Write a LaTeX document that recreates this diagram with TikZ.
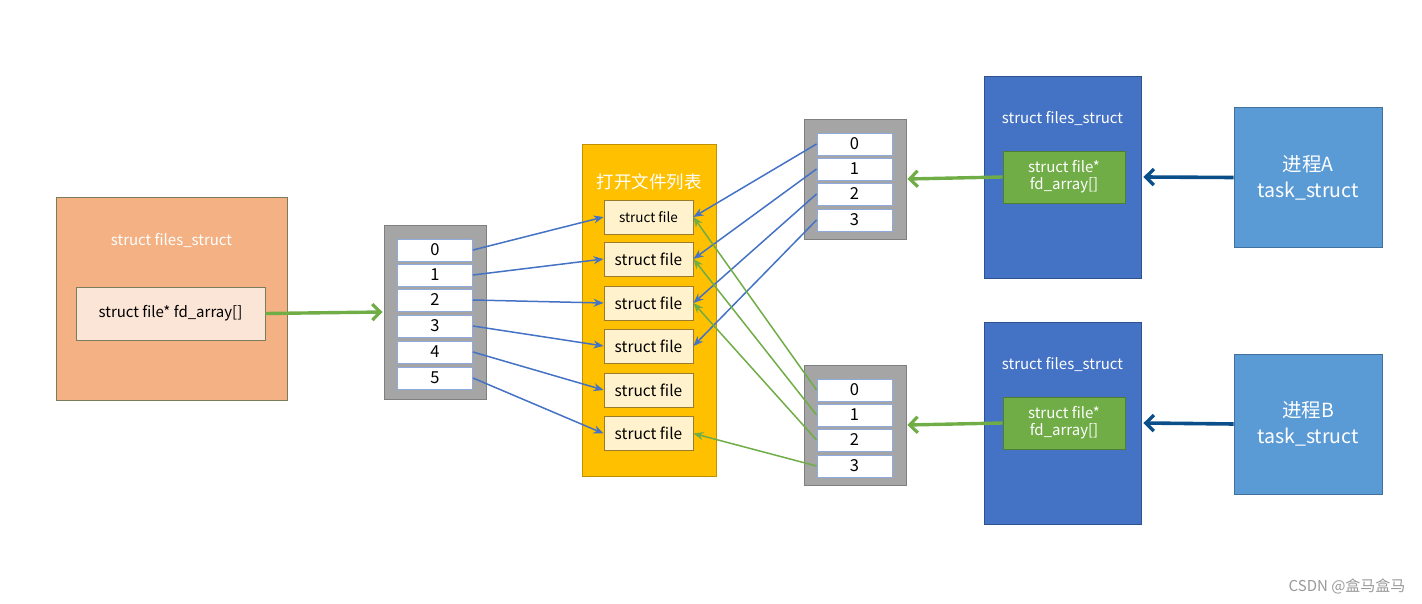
\documentclass[tikz,border=0pt]{standalone}
\usepackage{fontspec}
\setmainfont{Noto Sans CJK SC}
\usetikzlibrary{arrows.meta}
\definecolor{cOrange}{HTML}{F4B183}
\definecolor{cOrangeIn}{HTML}{FBE5D6}
\definecolor{cOlive}{HTML}{7A7D5C}
\definecolor{cGray}{HTML}{A5A5A5}
\definecolor{cGrayB}{HTML}{7F7F7F}
\definecolor{cCellB}{HTML}{8FAADC}
\definecolor{cYellow}{HTML}{FFC000}
\definecolor{cYellowB}{HTML}{BF9000}
\definecolor{cSF}{HTML}{FFF2CC}
\definecolor{cSFB}{HTML}{9C7C2C}
\definecolor{cBlue}{HTML}{4472C4}
\definecolor{cBlueB}{HTML}{2F528F}
\definecolor{cGreen}{HTML}{70AD47}
\definecolor{cGreenB}{HTML}{507E32}
\definecolor{cTask}{HTML}{5B9BD5}
\definecolor{cTaskB}{HTML}{41719C}
\definecolor{cDark}{HTML}{0B4F8A}
\begin{document}
\begin{tikzpicture}[x=1pt,y=-1pt,
  box/.style={draw,rectangle,inner sep=0pt,line width=0.9pt},
  cell/.style={box,fill=white,draw=cCellB,minimum width=75pt,minimum height=22pt,font=\fontsize{16.5}{16.5}\selectfont},
  sfile/.style={box,fill=cSF,draw=cSFB,minimum width=89pt,minimum height=34pt,font=\fontsize{15.5}{15.5}\selectfont},
  txt/.style={font=\fontsize{15}{15}\selectfont,text=white},
  thinblue/.style={draw=cBlue,line width=1.5pt,-{Stealth[length=10pt,width=8pt]}},
  thingreen/.style={draw=cGreen,line width=1.5pt,-{Stealth[length=10pt,width=8pt]}},
  thickgreen/.style={draw=cGreen,line width=3.4pt,-{Straight Barb[length=8pt,width=16pt,line width=3.2pt]}},
  thickdark/.style={draw=cDark,line width=3.6pt,-{Straight Barb[length=8pt,width=16pt,line width=3.4pt]}}
]
\useasboundingbox (0,0) rectangle (1422,604);
% left orange
\node[box,fill=cOrange,draw=cOlive,minimum width=231pt,minimum height=203pt] (lbox) at (171.5,298.5) {};
\node[txt] (ltitle) at (171.5,240) {struct files\_struct};
\node[box,fill=cOrangeIn,draw=cOlive,minimum width=189pt,minimum height=53pt,font=\fontsize{15}{15}\selectfont] (lin) at (170.5,313.5) {struct file* fd\_array[]};
% left array
\node[box,fill=cGray,draw=cGrayB,minimum width=102pt,minimum height=174pt] (larr) at (435,312) {};
\foreach \i/\y in {0/250,1/275,2/300,3/326,4/352,5/378}{
  \node[cell] (L\i) at (435,\y) {\i};
}
% yellow list
\node[box,fill=cYellow,draw=cYellowB,minimum width=134pt,minimum height=332pt] (ylist) at (649,310) {};
\node[font=\fontsize{17.5}{17.5}\selectfont,text=white] (ytitle) at (649,182) {打开文件列表};
\node[sfile,font=\fontsize{13.5}{13.5}\selectfont] (S0) at (648.5,217) {struct file};
\foreach \i/\y in {1/259,2/303,3/346,4/390,5/433.5}{
  \node[sfile] (S\i) at (648.5,\y) {struct file};
}
% right arrays
\node[box,fill=cGray,draw=cGrayB,minimum width=102pt,minimum height=120pt] (aarr) at (855,179) {};
\foreach \i/\y in {0/144,1/169,2/194,3/220}{
  \node[cell] (A\i) at (854.5,\y) {\i};
}
\node[box,fill=cGray,draw=cGrayB,minimum width=102pt,minimum height=120pt] (barr) at (855,425) {};
\foreach \i/\y in {0/390,1/415,2/440,3/466}{
  \node[cell] (B\i) at (854.5,\y) {\i};
}
% blue files_struct A/B
\node[box,fill=cBlue,draw=cBlueB,minimum width=157pt,minimum height=202pt] (fa) at (1062.5,177) {};
\node[txt] (fatitle) at (1062.5,118) {struct files\_struct};
\node[box,fill=cGreen,draw=cGreenB,minimum width=122pt,minimum height=52pt,txt,align=center] (fain) at (1064,177) {struct file*\\[2pt]fd\_array[]};
\node[box,fill=cBlue,draw=cBlueB,minimum width=157pt,minimum height=202pt] (fb) at (1062.5,423) {};
\node[txt] (fbtitle) at (1062.5,364) {struct files\_struct};
\node[box,fill=cGreen,draw=cGreenB,minimum width=122pt,minimum height=52pt,txt,align=center] (fbin) at (1064,423) {struct file*\\[2pt]fd\_array[]};
% tasks
\node[box,fill=cTask,draw=cTaskB,minimum width=148pt,minimum height=140pt,align=center,text=white,font=\fontsize{19.5}{26}\selectfont] (ta) at (1308,177.5) {进程A\\task\_struct};
\node[box,fill=cTask,draw=cTaskB,minimum width=148pt,minimum height=140pt,align=center,text=white,font=\fontsize{19.5}{26}\selectfont] (tb) at (1308,424) {进程B\\task\_struct};
% thick arrows
\draw[thickgreen] (lin.east) -- ([xshift=-1pt]larr.west);
\draw[thickgreen] (fain.west) -- ([xshift=1pt]aarr.east);
\draw[thickgreen] (fbin.west) -- ([xshift=1pt]barr.east);
\draw[thickdark] (ta.west) -- ([xshift=2pt]fa.east);
\draw[thickdark] (tb.west) -- ([xshift=2pt]fb.east);
% thin arrows left
\foreach \i in {0,...,5}{
  \draw[thinblue] (L\i.east) -- (S\i.west);
}
\foreach \i in {0,...,3}{
  \draw[thinblue] (A\i.west) -- (S\i.east);
}
\draw[thingreen] (B0.west) -- (S0.east);
\draw[thingreen] (B1.west) -- (S1.east);
\draw[thingreen] (B2.west) -- (S2.east);
\draw[thingreen] (B3.west) -- (S5.east);
% watermark
\node[text=black!40,font=\fontsize{15}{15}\selectfont,anchor=east] (wm) at (1409,586) {CSDN @盒马盒马};
\end{tikzpicture}
\end{document}
